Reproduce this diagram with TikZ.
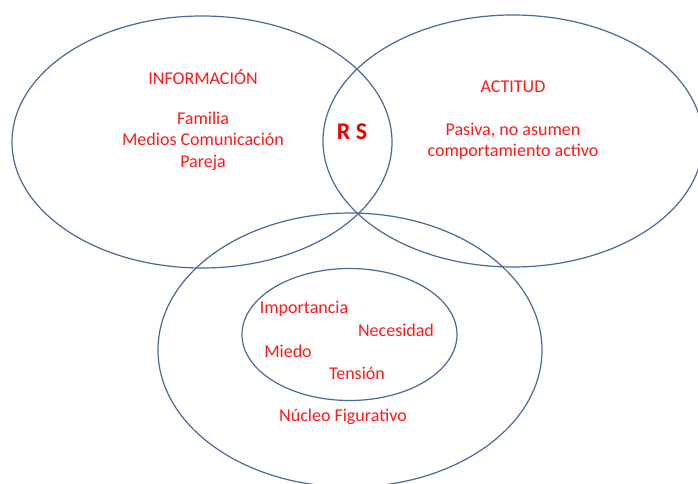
\documentclass[tikz,border=0pt]{standalone}
\usepackage{fontspec}
\setmainfont{Carlito}
\usepackage{tikz}
\usetikzlibrary{shapes.geometric}
\definecolor{rim}{HTML}{4A6A96}
\definecolor{ink}{HTML}{FF1A1A}

\begin{document}
\begin{tikzpicture}[x=0.75pt,y=0.75pt,
 ring/.style={draw=rim,line width=0.9pt,ellipse,inner sep=0pt},
 word/.style={text=ink,font=\fontsize{13.5}{16}\selectfont,align=center,inner sep=0pt}]
\useasboundingbox (0,0) rectangle (698,-484);
\node[ring,minimum width=285pt,minimum height=189pt] (info) at (202,-142) {};
\node[ring,minimum width=285pt,minimum height=189pt] (actitud) at (513,-141) {};
\node[ring,minimum width=288pt,minimum height=205.5pt] (nucleo) at (350,-350) {};
\node[ring,minimum width=161.25pt,minimum height=99pt] (centro) at (349.5,-334.5) {};
\node[word] (infotit) at (203,-77) {INFORMACIÓN};
\node[word] (infolst) at (203,-141) {Familia\\Medios Comunicación\\Pareja};
\node[word] (acttit) at (513,-87) {ACTITUD};
\node[word] (actlst) at (513,-141.5) {Pasiva, no asumen\\comportamiento activo};
\node[word,font=\fontsize{18}{20}\selectfont\bfseries,text=red!92!black] (rs) at (352,-132) {R S};
\node[word] (imp) at (304,-309) {Importancia};
\node[word] (nec) at (396,-330) {Necesidad};
\node[word] (mie) at (288,-351) {Miedo};
\node[word] (ten) at (357,-373) {Tensión};
\node[word] (nfig) at (343,-417) {Núcleo Figurativo};
\end{tikzpicture}
\end{document}
